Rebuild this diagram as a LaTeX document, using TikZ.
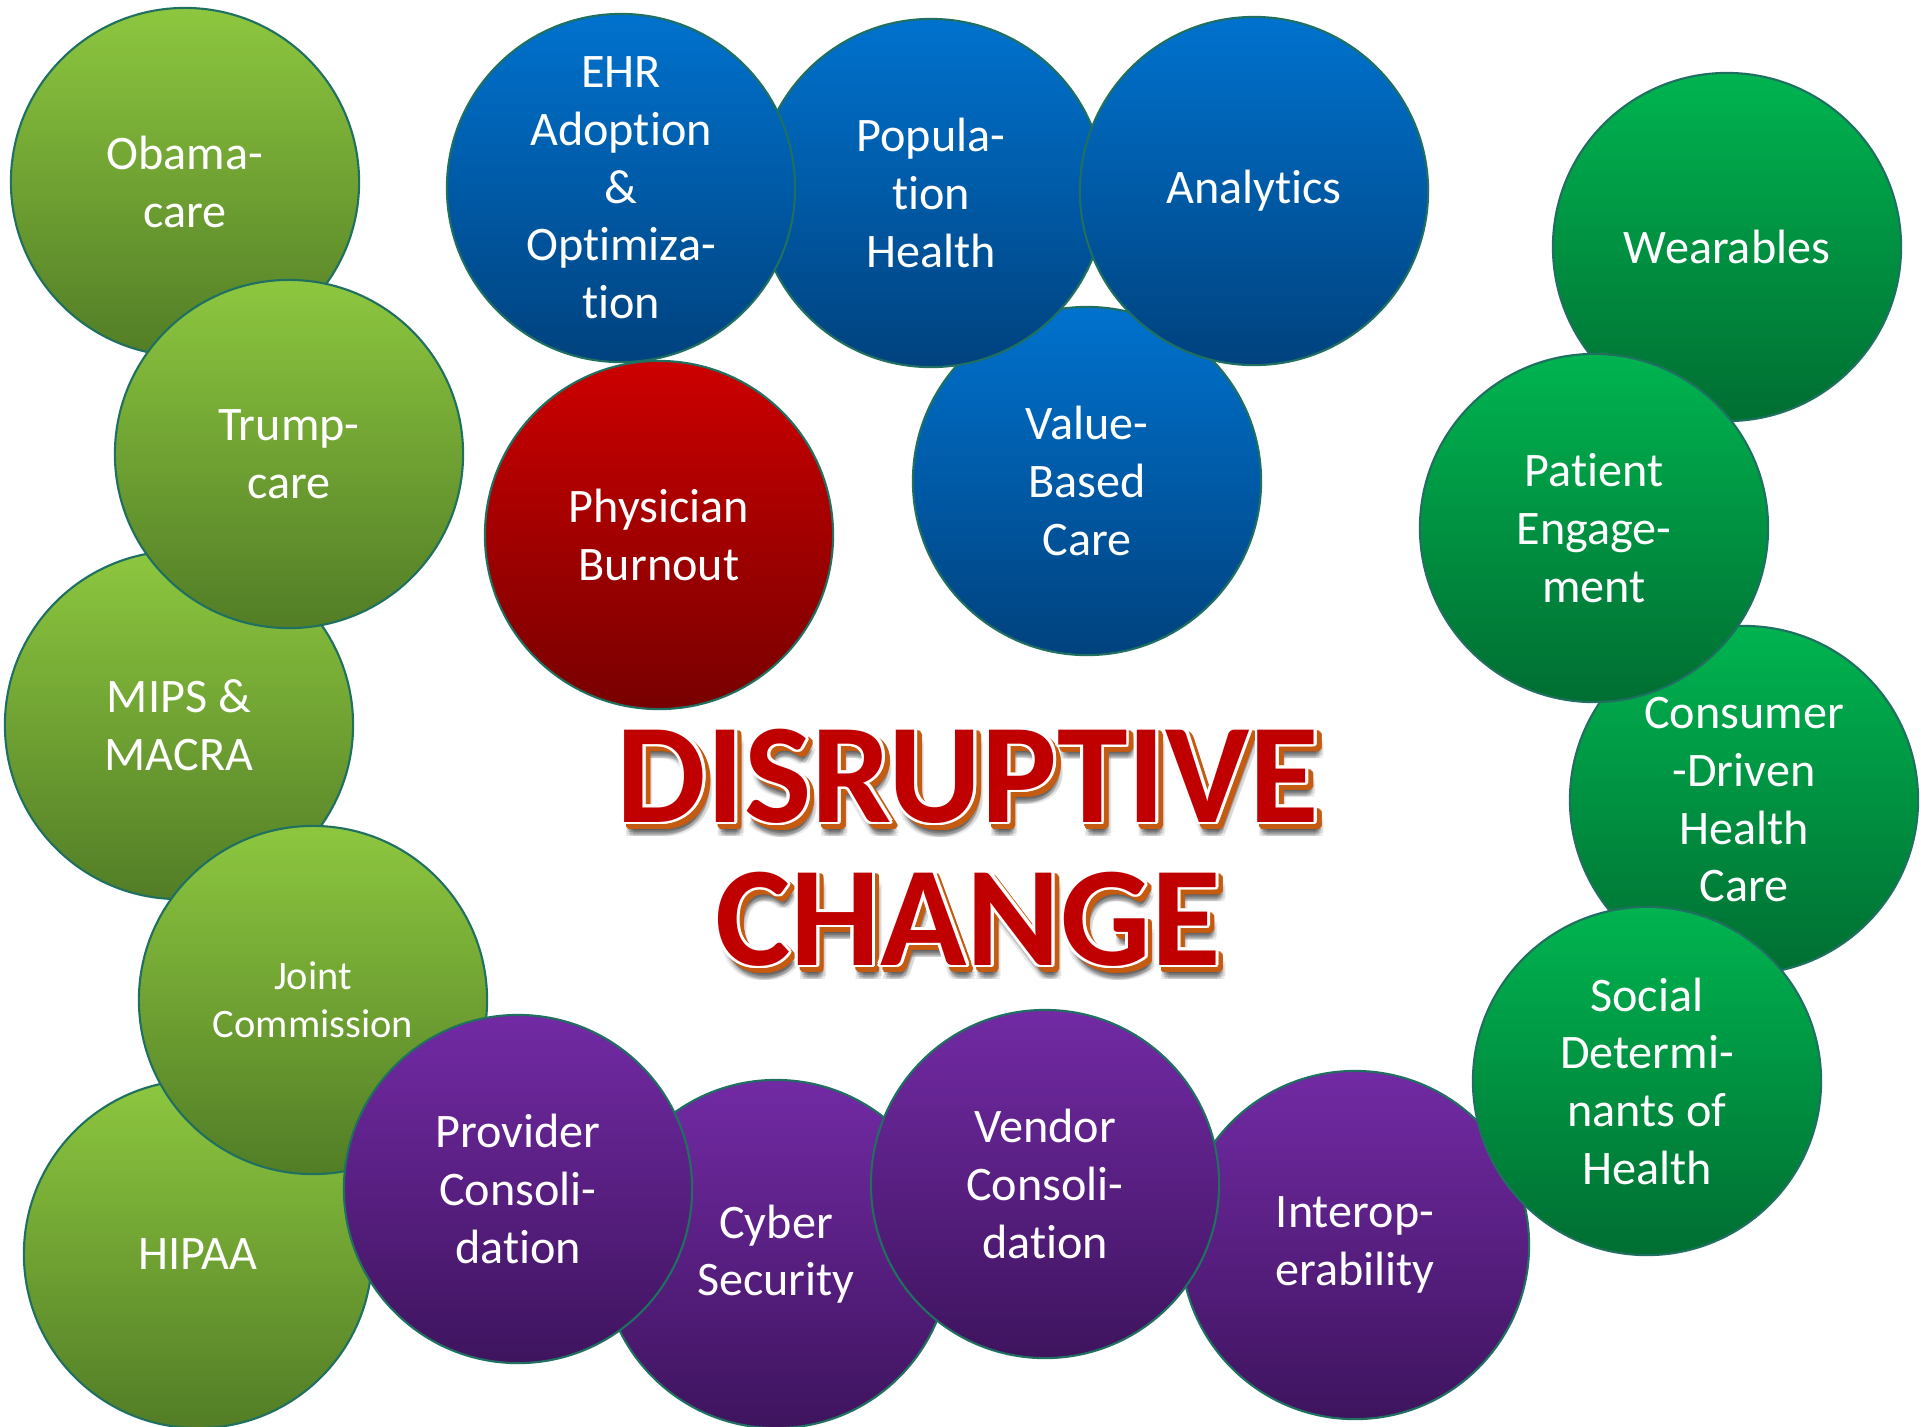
\documentclass[tikz,border=0pt]{standalone}
\usepackage{fontspec}
\setmainfont{Carlito}[Ligatures=NoCommon]
\usepackage{tikz}

\definecolor{rim}{RGB}{31,112,96}
\definecolor{limetop}{RGB}{141,199,63}
\definecolor{limebot}{RGB}{82,125,38}
\definecolor{bluetop}{RGB}{0,114,206}
\definecolor{bluebot}{RGB}{0,66,126}
\definecolor{redtop}{RGB}{204,0,0}
\definecolor{redbot}{RGB}{120,0,0}
\definecolor{greentop}{RGB}{0,180,80}
\definecolor{greenbot}{RGB}{0,110,50}
\definecolor{violettop}{RGB}{114,42,164}
\definecolor{violetbot}{RGB}{62,20,94}
\definecolor{titlered}{RGB}{192,0,0}
\definecolor{titlerust}{RGB}{197,90,17}

\tikzset{
    bubble/.style={circle, draw=rim, line width=0.6pt, minimum size=3.48cm, inner sep=0pt,
        text=white, align=center, font={\fontsize{13.7}{16.4}\selectfont}},
    limeball/.style={bubble, top color=limetop, bottom color=limebot},
    blueball/.style={bubble, top color=bluetop, bottom color=bluebot},
    redball/.style={bubble, top color=redtop, bottom color=redbot},
    greenball/.style={bubble, top color=greentop, bottom color=greenbot},
    violetball/.style={bubble, top color=violettop, bottom color=violetbot},
    headline/.style={font={\fontsize{40.5}{44}\bfseries\selectfont}, inner sep=0pt, anchor=base}
}

\begin{document}
\begin{tikzpicture}[x=0.01cm, y=-0.01cm]
                \useasboundingbox (0,0) rectangle (1921,1426);
                \node [limeball] (obama) at (185,182) {Obama-\\care};
                \node [limeball] (mips) at (179,725) {MIPS \&\\MACRA};
                \node [limeball] (trump) at (289,454) {Trump-\\care};
                \node [limeball] (hipaa) at (198,1254) {HIPAA};
                \node [limeball, font={\fontsize{11.5}{13.6}\selectfont}] (joint) at (313,1000) {Joint\\Commission};
                \node [violetball] (cyber) at (776,1254) {Cyber\\Security};
                \node [violetball] (provider) at (518,1189) {Provider\\Consoli-\\dation};
                \node [violetball] (interop) at (1355,1245) {Interop-\\erability};
                \node [violetball] (vendor) at (1045,1184) {Vendor\\Consoli-\\dation};
                \node [blueball] (value) at (1087,481) {Value-\\Based\\Care};
                \node [blueball] (population) at (931,193) {Popula-\\tion\\Health};
                \node [blueball] (ehr) at (621,188) {EHR\\Adoption\\\&\\Optimiza-\\tion};
                \node [blueball] (analytics) at (1254,191) {Analytics};
                \node [redball] (burnout) at (659,535) {Physician\\Burnout};
                \node [greenball] (wearables) at (1727,247) {Wearables};
                \node [greenball] (consumer) at (1744,800) {Consumer\\-Driven\\Health\\Care};
                \node [greenball] (patient) at (1594,528) {Patient\\Engage-\\ment};
                \node [greenball] (social) at (1647,1081) {Social\\Determi-\\nants of\\Health};
                \foreach \word/\ypos/\tname in {DISRUPTIVE/822/title1, CHANGE/965/title2} {
                    \foreach \sx/\sy [count=\i] in {5/-10, 7/-12, 3/-12, 5/-14, 8/-8, 10/-11, 3/-8, 6/-13, 4/-10, 7/-9, 2/-14, 9/-14} {
                        \node [headline, text=black, text opacity=0.08, xshift=\sx*0.2845pt, yshift=\sy*0.2845pt]
                            (\tname-g\i) at (968,\ypos) {\word};
                    }
                    \foreach \a [count=\i] in {0,22.5,...,337.5} {
                        \node [headline, text=titlerust, xshift={1.3pt+0.8pt*cos(\a)}, yshift={-1.3pt+0.8pt*sin(\a)}]
                            (\tname-b\i) at (968,\ypos) {\word};
                    }
                    \foreach \a [count=\i] in {0,22.5,...,337.5} {
                        \node [headline, text=white, xshift={0.8pt*cos(\a)}, yshift={0.8pt*sin(\a)}]
                            (\tname-w\i) at (968,\ypos) {\word};
                    }
                    \node [headline, text=titlered] (\tname) at (968,\ypos) {\word};
                }
\end{tikzpicture}
\end{document}
